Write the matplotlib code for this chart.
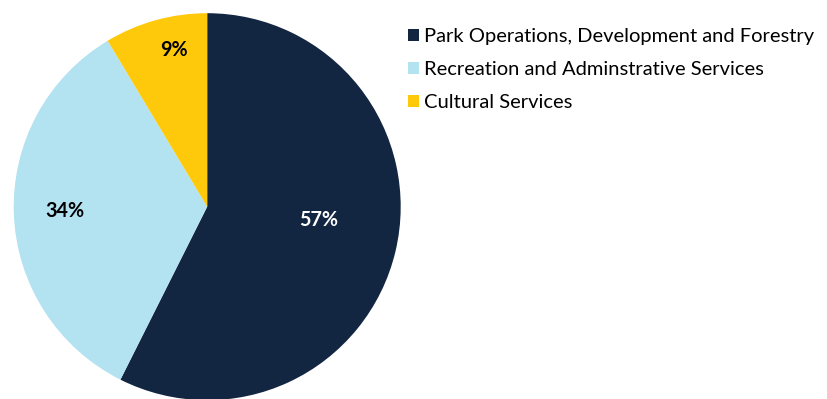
import numpy as np
import matplotlib.pyplot as plt
from matplotlib.patches import Patch

plt.rcParams['font.family'] = ['Lato', 'DejaVu Sans']

# data
labels = ["Park Operations, Development and Forestry",
          "Recreation and Adminstrative Services",
          "Cultural Services"]
shares = [57.4, 34.0, 8.6]
colors = ["#132641", "#b3e2f1", "#fec90b"]
pct_colors = ["white", "black", "black"]
pct_radius = [0.58, 0.735, 0.826]   # label distance, fraction of radius
pct_shift = [6.5, -0.4, -3.6]        # label angle nudge (deg)

W, H = 828, 399
fig = plt.figure(figsize=(W / 100, H / 100), dpi=100)

# pie centred at (207.2, 206.7) px, radius 193.5 px
cx, cy, r = 207.2, 206.7, 193.5
ax = fig.add_axes([(cx - r) / W, (H - cy - r) / H, 2 * r / W, 2 * r / H])

wedges, texts, autotexts = ax.pie(shares, colors=colors, startangle=90,
                                  counterclock=False, radius=1,
                                  autopct="%.0f%%", pctdistance=0.6,
                                  wedgeprops=dict(linewidth=0))
ax.set_xlim(-1, 1)
ax.set_ylim(-1, 1)
ax.set_aspect('equal')

for t, c, d, s in zip(autotexts, pct_colors, pct_radius, pct_shift):
    x, y = t.get_position()
    ang = np.arctan2(y, x) + np.radians(s)
    t.set_position((d * np.cos(ang), d * np.sin(ang)))
    t.set_color(c)
    t.set_fontsize(14.2)
    t.set_fontweight('bold')

handles = [Patch(facecolor=c, edgecolor='none') for c in colors]
fig.legend(handles, labels, loc='upper left', bbox_to_anchor=(408 / W, 1 - 28 / H),
           frameon=False, fontsize=14.5, handlelength=0.55, handleheight=0.52,
           handletextpad=0.22, labelspacing=0.8, borderaxespad=0, borderpad=0)

fig.savefig("out.png", dpi=100)
